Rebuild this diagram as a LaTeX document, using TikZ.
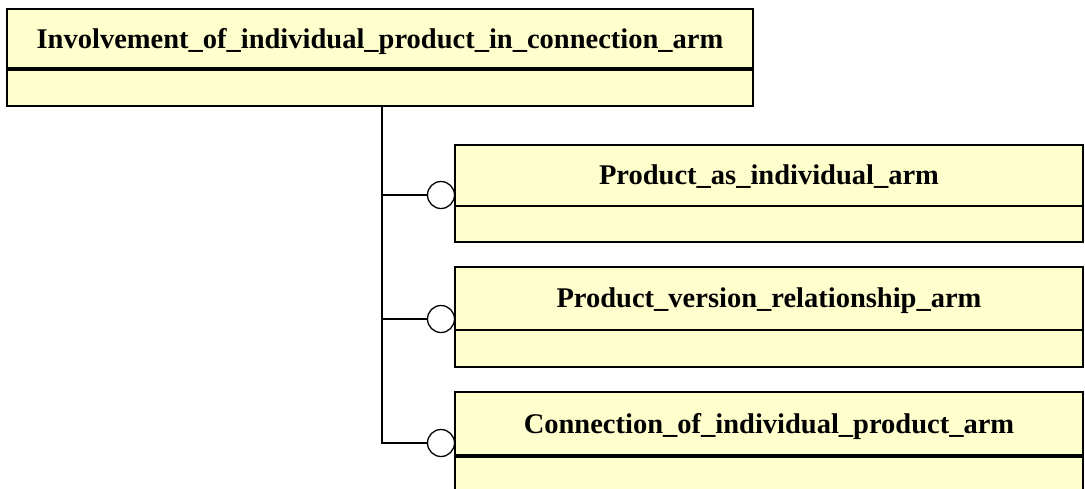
\documentclass[tikz,border=0pt]{standalone}
\usepackage{fontspec}
\setmainfont{Liberation Serif}
\definecolor{entityfill}{RGB}{255,255,206}

\begin{document}
\begin{tikzpicture}[x = 1pt, y = -1pt,
	entity/.style = {draw, fill = entityfill, line width = 1.5pt},
	heavybar/.style = {line width = 3.5pt},
	lightbar/.style = {line width = 1.5pt},
	entname/.style = {anchor = base, inner sep = 0pt, font = \fontsize{28.5}{30}\selectfont\bfseries},
	subring/.style = {circle, draw, line width = 1.3pt, fill = white, minimum size = 27pt, inner sep = 0pt},
	link/.style = {line width = 1.3pt}]

\clip (0, 0) rectangle (1085, 488);

% supertype
\draw[entity] (7, 9) rectangle (753, 106);
\draw[heavybar] (7, 69) -- (753, 69);
\node[entname] (inv) at (380, 48) {Involvement\_of\_individual\_product\_in\_connection\_arm};
\coordinate (trunk) at (382, 106);

% subtypes
\foreach \ytop/\ybar/\ybot/\yring/\bar/\id/\txt in {
	145/206/242/195/lightbar/pai/Product\_as\_individual\_arm,
	267/330/367/319/lightbar/pvr/Product\_version\_relationship\_arm,
	392/456/520/443/heavybar/cip/Connection\_of\_individual\_product\_arm} {
	\draw[entity] (455, \ytop) rectangle (1083, \ybot);
	\draw[\bar] (455, \ybar) -- (1083, \ybar);
	\node[entname] (\id) at (769, {(\ytop + \ybar) / 2 + 9}) {\txt};

	\node[subring] (ring-\id) at (441, \yring) {};
	\draw[link] (trunk) |- (ring-\id.west);
}

\end{tikzpicture}
\end{document}
